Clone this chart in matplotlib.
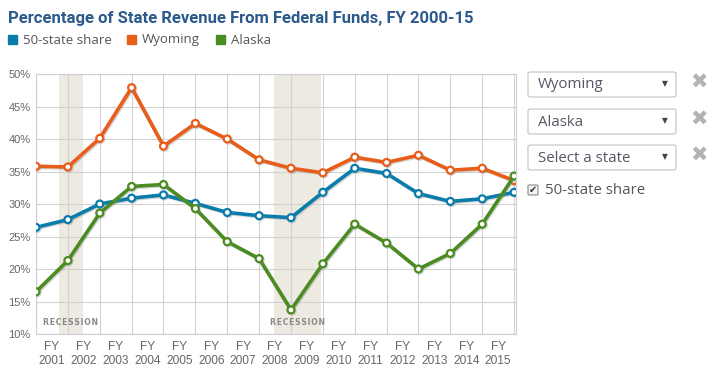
import matplotlib
matplotlib.use("Agg")
import matplotlib.pyplot as plt
import matplotlib.patheffects as pe
from matplotlib.patches import FancyBboxPatch, Rectangle
import numpy as np

# 数据：FY 2000-15 联邦资金占州收入的比例 (%)
years = list(range(2000, 2016))
share_50 = [26.4, 27.6, 30.0, 30.9, 31.4, 30.1, 28.7, 28.2, 27.9, 31.8, 35.5, 34.7, 31.6, 30.4, 30.8, 31.8]
wyoming = [35.8, 35.7, 40.1, 47.9, 38.9, 42.4, 40.0, 36.8, 35.5, 34.8, 37.2, 36.4, 37.5, 35.2, 35.5, 33.6]
alaska = [16.5, 21.3, 28.6, 32.7, 33.0, 29.3, 24.2, 21.6, 13.7, 20.8, 26.9, 24.0, 20.0, 22.4, 26.9, 34.3]
fy_labels = ["FY\n%d" % y for y in range(2001, 2016)]
yticks = [10, 15, 20, 25, 30, 35, 40, 45, 50]
recessions = [(0.72, 1.47), (7.47, 8.94)]

BLUE = "#0a7cab"
ORANGE = "#e85d1a"
GREEN = "#4b8c22"
TITLE = "#2b5a8c"
GRAY_TXT = "#666666"

W, H = 721, 369
fig = plt.figure(figsize=(W / 100, H / 100), dpi=100)


def fx(px):
    return px / W


def fy(py):
    return 1 - py / H


# ---------- 主图 ----------
ax = fig.add_axes([fx(36), fy(334), fx(480), 260 / H])
x = np.arange(len(years))

for x0, x1 in recessions:
    ax.axvspan(x0, x1, color="#edeae2", zorder=0, lw=0)
    ax.text((x0 + x1) / 2, 11.8, "\u200a".join("RECESSION"), ha="center", va="center",
            fontsize=5.6, fontweight="bold", color="#8a8a8a",
            family="DejaVu Sans", zorder=1)

shadow = [pe.SimpleLineShadow(offset=(0.8, -0.8), shadow_color="#888888", alpha=0.35),
          pe.Normal()]
for vals, col in [(wyoming, ORANGE), (share_50, BLUE), (alaska, GREEN)]:
    ax.plot(x, vals, color=col, lw=2.6, marker="o", ms=5, mfc="white",
            mec=col, mew=1.6, zorder=3, path_effects=shadow,
            solid_joinstyle="round")

ax.set_xlim(0, 15.06)
ax.set_ylim(10, 50)
ax.set_yticks(yticks)
ax.set_yticklabels(["%d%%" % v for v in yticks])
ax.set_xticks(x)
ax.set_xticklabels([])
ax.set_xticks(x[:-1] + 0.5, minor=True)
ax.set_xticklabels(fy_labels, minor=True)
ax.tick_params(axis="both", which="both", length=0, colors=GRAY_TXT, labelsize=8)
ax.tick_params(axis="x", which="minor", labelsize=8.6, pad=5)
ax.tick_params(axis="y", pad=4)
for lab in ax.get_xticklabels(minor=True) + ax.get_yticklabels():
    lab.set_family("Liberation Sans")
    lab.set_linespacing(1.2)
ax.grid(True, which="major", color="#d2d2d2", lw=0.8)
ax.set_axisbelow(True)
for s in ax.spines.values():
    s.set_color("#cfcfcf")
    s.set_linewidth(0.8)

# ---------- 标题与图例 ----------
fig.text(fx(8), fy(18), "Percentage of State Revenue From Federal Funds, FY 2000-15",
         fontsize=12, fontweight="bold", color=TITLE, family="Roboto",
         va="center", ha="left")

legend_items = [(8, "50-state share", BLUE), (127, "Wyoming", ORANGE), (216, "Alaska", GREEN)]
for px, label, col in legend_items:
    fig.patches.append(Rectangle((fx(px), fy(44)), fx(9), 9 / H, color=col,
                                 transform=fig.transFigure))
    fig.text(fx(px + 15), fy(40), label, fontsize=9.5, color="#555555",
             family="Open Sans", va="center", ha="left")

# ---------- 右侧下拉框 ----------
boxes = [(72, "Wyoming"), (109, "Alaska"), (145, "Select a state")]
for top, label in boxes:
    fig.patches.append(FancyBboxPatch((fx(528), fy(top + 25)), fx(148), 25 / H,
                                      boxstyle="round,pad=0,rounding_size=0.004",
                                      fc="white", ec="#c8c8c8", lw=0.9,
                                      transform=fig.transFigure))
    fig.text(fx(538), fy(top + 13), label, fontsize=10.8, color="#555566",
             family="Open Sans", va="center", ha="left")
    fig.text(fx(665), fy(top + 12), "▼", fontsize=5.5, color="#444444",
             family="DejaVu Sans", va="center", ha="center")
    fig.text(fx(699), fy(top + 11), "✖", fontsize=15, color="#b3b3b3",
             family="DejaVu Sans", va="center", ha="center")

fig.patches.append(FancyBboxPatch((fx(528), fy(195)), fx(10), 10 / H,
                                  boxstyle="round,pad=0,rounding_size=0.002",
                                  fc="#f4f4f4", ec="#888888", lw=0.8,
                                  transform=fig.transFigure))
fig.text(fx(533), fy(190), "✔", fontsize=7, color="#333333",
         family="DejaVu Sans", va="center", ha="center")
fig.text(fx(545), fy(190), "50-state share", fontsize=10.8, color="#555555",
         family="Open Sans", va="center", ha="left")

fig.savefig("out.png", dpi=100)
